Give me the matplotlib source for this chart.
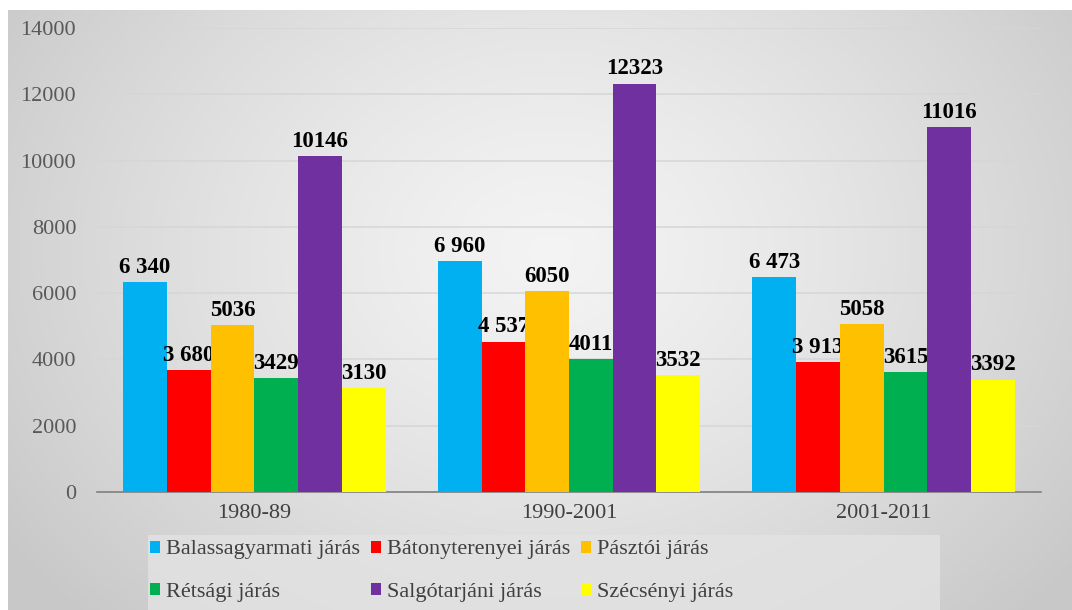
import numpy as np
import matplotlib
matplotlib.use('Agg')
import matplotlib.pyplot as plt
from matplotlib.patches import Rectangle

# adatok
korszakok = ['1980-89', '1990-2001', '2001-2011']
jarasok = ['Balassagyarmati járás', 'Bátonyterenyei járás', 'Pásztói járás',
           'Rétsági járás', 'Salgótarjáni járás', 'Szécsényi járás']
ertekek = [
    [6340, 6960, 6473],
    [3680, 4537, 3913],
    [5036, 6050, 5058],
    [3429, 4011, 3615],
    [10146, 12323, 11016],
    [3130, 3532, 3392],
]
cimkek = [
    ['6 340', '6 960', '6 473'],
    ['3 680', '4 537', '3 913'],
    ['5036', '6050', '5058'],
    ['3429', '4011', '3615'],
    ['10146', '12323', '11016'],
    ['3130', '3532', '3392'],
]
szinek = ['#00b0f0', '#ff0000', '#ffc000', '#00b050', '#7030a0', '#ffff00']

plt.rcParams['font.family'] = ['Liberation Serif', 'DejaVu Serif']

W, H = 1072, 610
fig = plt.figure(figsize=(W / 100, H / 100), dpi=100)
fig.patch.set_facecolor('white')

# sugaras szürke háttér
bg = fig.add_axes([8 / W, 0, 1 - 8 / W, 600 / H])
bg.set_axis_off()
yy, xx = np.mgrid[0:300, 0:530]
cx, cy = 270, 120
r = np.sqrt(((xx - cx) / 330.0) ** 2 + ((yy - cy) / 260.0) ** 2)
r = np.clip(r, 0, 1)
g = 0.955 - 0.17 * r ** 1.3
bg.imshow(np.dstack([g, g, g]), aspect='auto', extent=[0, 1, 0, 1],
          interpolation='bilinear')
bg.set_xlim(0, 1)
bg.set_ylim(0, 1)
# világosabb sáv a jelmagyarázat mögött
bg.add_patch(Rectangle((148 / W, 0), (940 - 148) / W, 75 / H,
                       transform=fig.transFigure, facecolor='#e3e3e3',
                       edgecolor='none', alpha=0.8, zorder=2))

ax = fig.add_axes([97 / W, 1 - 492 / H, (1041 - 97) / W, (492 - 28) / H])
ax.set_facecolor('none')

x = np.arange(len(korszakok))
w = 0.139
handles = []
for i, (nev, v) in enumerate(zip(jarasok, ertekek)):
    b = ax.bar(x + (i - 2.5) * w, v, w, color=szinek[i], label=nev, zorder=3)
    ax.bar_label(b, labels=cimkek[i], padding=3, fontsize=16.5,
                 fontweight='bold', color='black')
    handles.append(b)

ax.set_xlim(-0.5, 2.5)
ax.set_ylim(0, 14000)
ax.set_yticks(np.arange(0, 14001, 2000))
ax.set_xticks(x)
ax.set_xticklabels(korszakok)
ax.yaxis.grid(True, color='#d6d6d6', lw=1.1, zorder=0)
ax.set_axisbelow(True)
for s in ['top', 'right', 'left']:
    ax.spines[s].set_visible(False)
ax.spines['bottom'].set_color('#7f7f7f')
ax.spines['bottom'].set_linewidth(1.2)
ax.tick_params(axis='y', length=0, pad=15, labelsize=16, labelcolor='#595959')
ax.tick_params(axis='x', length=0, pad=9, labelsize=16, labelcolor='#404040')

# jelmagyarázat soronként
sorrend = [0, 3, 1, 4, 2, 5]
leg = fig.legend([handles[k] for k in sorrend], [jarasok[k] for k in sorrend],
                 ncol=3, loc='upper left', bbox_to_anchor=(146 / W, 1 - 536 / H),
                 fontsize=16, frameon=False,
                 handlelength=0.45, handleheight=0.45, handletextpad=0.25,
                 columnspacing=0.5, labelspacing=1.05, borderpad=0.2,
                 borderaxespad=0)
for t in leg.get_texts():
    t.set_color('#404040')

fig.savefig('out.png', dpi=100)
